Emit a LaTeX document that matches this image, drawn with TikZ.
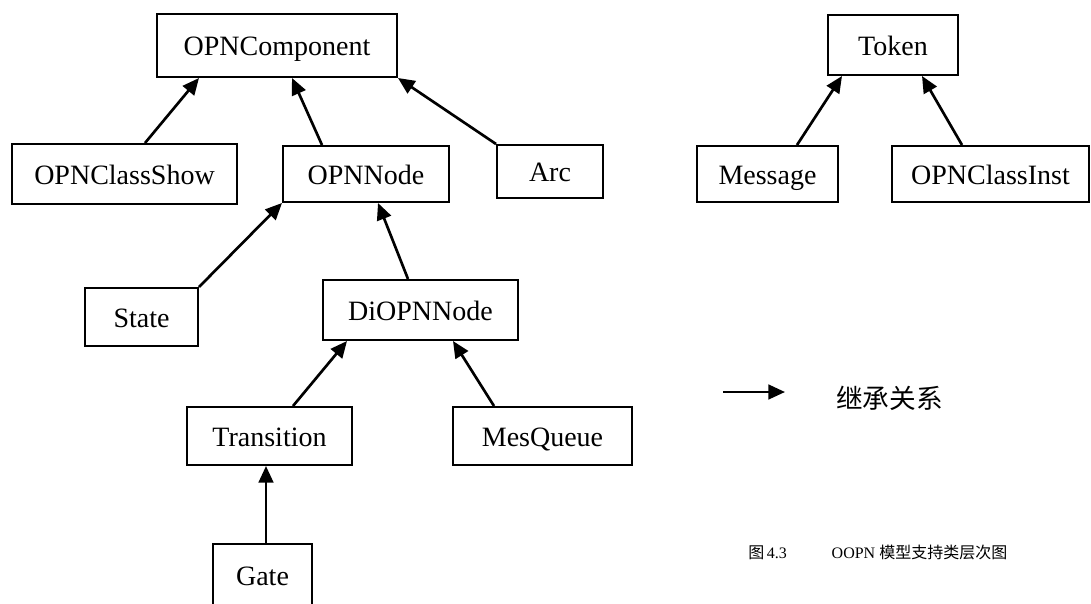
\documentclass[tikz,border=0pt]{standalone}
\usepackage{fontspec}
\setmainfont{Liberation Serif}
\newfontfamily\cjk{Noto Sans CJK SC}
\usetikzlibrary{arrows.meta,calc}
\begin{document}
\begin{tikzpicture}[x=0.75pt,y=-0.75pt,
  cls/.style={draw, line width=1.5pt, inner sep=0pt, fill=white,
              text height=15pt, text depth=0pt,
              font=\fontsize{21}{24}\selectfont},
  inherit/.style={-{Triangle[length=12.5pt,width=11pt]}, line width=2pt}]
\useasboundingbox (0,0) rectangle (1091,603);
\clip (0,0) rectangle (1091,603);

% class boxes
\node[cls, minimum width=180pt,    minimum height=47.25pt] (comp)    at (277,45.5)   {OPNComponent};
\node[cls, minimum width=168.75pt, minimum height=45pt]    (show)    at (124.5,174)  {OPNClassShow};
\node[cls, minimum width=124.5pt,  minimum height=42pt]    (opnnode) at (366,174)    {OPNNode};
\node[cls, minimum width=79.5pt,   minimum height=39.75pt] (arc)     at (550,171.5)  {Arc};
\node[cls, minimum width=97.5pt,   minimum height=45pt]    (token)   at (893,45)     {Token};
\node[cls, minimum width=105.75pt, minimum height=42pt]    (message) at (767.5,174)  {Message};
\node[cls, minimum width=147.75pt, minimum height=42pt]    (inst)    at (990.5,174)  {OPNClassInst};
\node[cls, minimum width=84.75pt,  minimum height=43.5pt]  (state)   at (141.5,317)  {State};
\node[cls, minimum width=146.25pt, minimum height=45pt]    (diopn)   at (420.5,310)  {DiOPNNode};
\node[cls, minimum width=123.75pt, minimum height=43.5pt]  (trans)   at (269.5,436)  {Transition};
\node[cls, minimum width=134.25pt, minimum height=43.5pt]  (mesq)    at (542.5,436)  {MesQueue};
\node[cls, minimum width=74.25pt,  minimum height=46.5pt]  (gate)    at (262.5,575)  {Gate};

% inheritance arrows
\draw[inherit] ($(show.north)+(20.5,0)$)    -- ($(comp.south)+(-78,0)$);
\draw[inherit] ($(opnnode.north)+(-44,0)$)  -- ($(comp.south)+(15,0)$);
\draw[inherit] (arc.north west)             -- (comp.south east);
\draw[inherit] (state.north east)           -- (opnnode.south west);
\draw[inherit] ($(diopn.north)+(-12.5,0)$)  -- ($(opnnode.south)+(12,0)$);
\draw[inherit] ($(mesq.north)+(-48.5,0)$)   -- ($(diopn.south)+(32.5,0)$);
\draw[inherit] ($(trans.north)+(23.5,0)$)   -- ($(diopn.south)+(-73.5,0)$);
\draw[inherit] ($(gate.north)+(3.5,0)$)     -- ($(trans.south)+(-3.5,0)$);
\draw[inherit] ($(message.north)+(29.5,0)$) -- ($(token.south)+(-51,0)$);
\draw[inherit] ($(inst.north)+(-28.5,0)$)   -- ($(token.south)+(29,0)$);

% legend
\coordinate (lgA) at (723,392);
\coordinate (lgB) at (785,392);
\draw[inherit] (lgA) -- (lgB);
\node[anchor=west, inner sep=0pt, font=\cjk\fontsize{20}{23}\selectfont] (lgtext) at (836,398) {继承关系};

% caption
\node[anchor=west, inner sep=0pt, font=\fontsize{12}{14}\selectfont] (cap) at (748,552)
  {{\cjk 图}\,4.3\hspace{2.8em}OOPN {\cjk 模型支持类层次图}};
\end{tikzpicture}
\end{document}
